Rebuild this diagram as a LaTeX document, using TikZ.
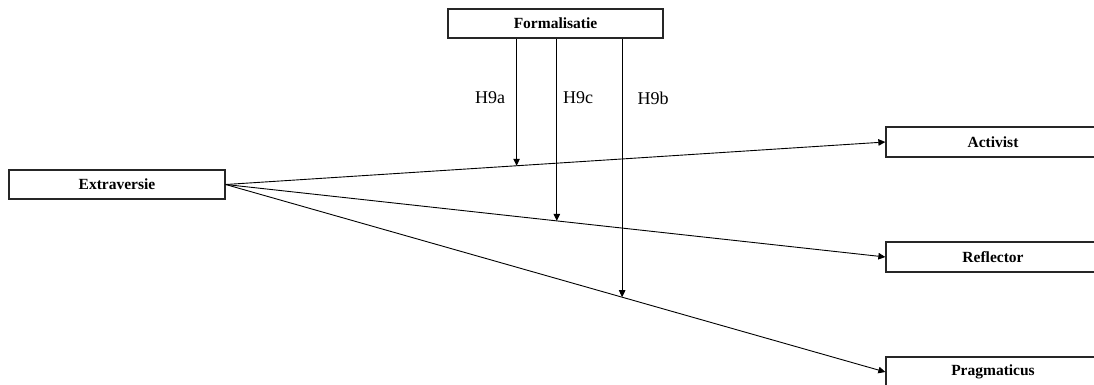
\documentclass[tikz,border=0pt]{standalone}
\usepackage{fontspec}
\setmainfont{Liberation Serif}
\usetikzlibrary{arrows.meta}
\begin{document}
\begin{tikzpicture}[x=1pt,y=-1pt,
  box/.style={draw=black!85,line width=1.3pt,minimum width=216pt,minimum height=29pt,inner sep=0pt,font=\fontsize{15.5}{18}\selectfont\bfseries},
  conn/.style={line width=0.9pt,-{Triangle[length=7pt,width=6.5pt]}},
  lab/.style={font=\fontsize{18}{20}\selectfont}]
\useasboundingbox (0,0) rectangle (1094,385);
\clip (0,0) rectangle (1094,385);
\node[box] (ext) at (117,184.5) {Extraversie};
\node[box,minimum width=215pt] (form) at (555.5,23.5) {Formalisatie};
\node[box,minimum width=214pt,minimum height=30pt] (act) at (993,142) {Activist};
\node[box,minimum width=214pt,minimum height=30pt] (ref) at (993,257) {Reflector};
\node[box,minimum width=214pt,minimum height=30pt] (prag) at (993,372) {Pragmaticus};
\draw[conn] (ext.east) -- (act.west) coordinate[pos=0.441] (pa);
\draw[conn] (ext.east) -- (ref.west) coordinate[pos=0.502] (pc);
\draw[conn] (ext.east) -- (prag.west) coordinate[pos=0.601] (pb);
\draw[conn] (form.south -| pa) -- (pa);
\draw[conn] (form.south -| pc) -- (pc);
\draw[conn] (form.south -| pb) -- (pb);
\node[lab] (la) at (490,98) {H9a};
\node[lab] (lc) at (578,98) {H9c};
\node[lab] (lb) at (653,98) {H9b};
\end{tikzpicture}
\end{document}
